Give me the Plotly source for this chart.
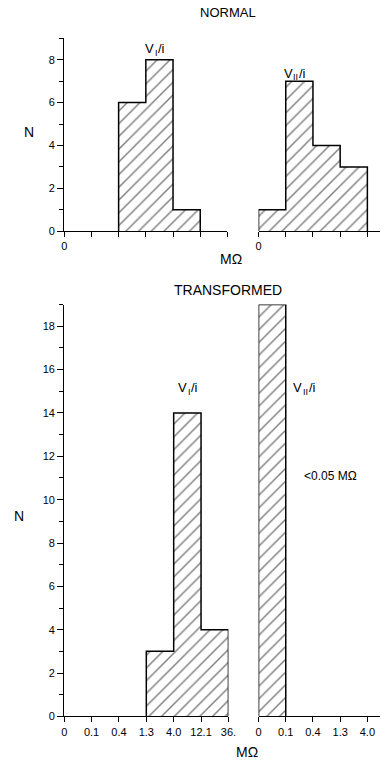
import plotly.graph_objects as go

# ---- data ----
normal_vi_counts = [0, 0, 6, 8, 1, 0]          # 6 bins, left top panel
normal_vii_counts = [1, 7, 4, 3]               # right top panel
trans_vi_counts = [0, 0, 0, 3, 14, 4]          # left bottom panel
trans_vii_counts = [19, 0, 0, 0]               # right bottom panel
left_edge_labels = ["0", "0.1", "0.4", "1.3", "4.0", "12.1", "36."]
right_edge_labels = ["0", "0.1", "0.4", "1.3", "4.0"]
top_labels = ["0"]

W, H = 388, 771
def px(x): return x / W
def py(y): return 1 - y / H

FONT = "Liberation Sans, Arial, sans-serif"
pattern = dict(shape="/", fgcolor="black", bgcolor="white", size=9, solidity=0.16)

def step_outline(counts):
    idx = [i for i, c in enumerate(counts) if c > 0]
    a, b = idx[0], idx[-1]
    xs = [a]
    ys = [0]
    for i in range(a, b + 1):
        xs.append(i)
        ys.append(counts[i])
    xs += [b + 1, b + 1]
    ys += [counts[b], 0]
    return xs, ys

fig = go.Figure()

def add_panel(counts, xa, ya):
    xs = [i + 0.5 for i, c in enumerate(counts) if c > 0]
    ys = [c for c in counts if c > 0]
    fig.add_trace(go.Bar(x=xs, y=ys, width=1, xaxis=xa, yaxis=ya,
                         marker=dict(color="white", line=dict(width=0), pattern=pattern),
                         showlegend=False, hoverinfo="skip"))
    sx, sy = step_outline(counts)
    fig.add_trace(go.Scatter(x=sx, y=sy, mode="lines", line=dict(color="black", width=1.5, shape="hv"),
                             xaxis=xa, yaxis=ya, showlegend=False, hoverinfo="skip"))

add_panel(normal_vi_counts, "x", "y")
add_panel(normal_vii_counts, "x2", "y")
add_panel(trans_vi_counts, "x3", "y2")
add_panel(trans_vii_counts, "x4", "y2")

tickfont = dict(family=FONT, size=11, color="black")

def xaxis(domain, rng, labels, anchor):
    return dict(domain=domain, range=rng, anchor=anchor, showgrid=False, zeroline=False,
                showline=True, linecolor="black", linewidth=1.2,
                tickmode="array", tickvals=list(range(len(labels))), ticktext=labels,
                ticks="outside", ticklen=5, tickwidth=1, tickcolor="black",
                minor=dict(tickmode="linear", tick0=0, dtick=1, ticks="outside", ticklen=5,
                           tickwidth=1, tickcolor="black", showgrid=False),
                tickfont=tickfont, fixedrange=True)

def yaxis(domain, rng, dtick, anchor):
    return dict(domain=domain, range=rng, anchor=anchor, showgrid=False, zeroline=False,
                showline=True, linecolor="black", linewidth=1.2,
                tickmode="linear", tick0=0, dtick=dtick,
                ticks="outside", ticklen=6, tickwidth=1, tickcolor="black",
                minor=dict(dtick=1, tick0=0, ticks="outside", ticklen=4, tickcolor="black", showgrid=False),
                tickfont=tickfont, fixedrange=True)

fig.update_layout(
    width=W, height=H, margin=dict(l=0, r=0, t=0, b=0),
    paper_bgcolor="white", plot_bgcolor="white",
    bargap=0, barmode="overlay",
    xaxis=xaxis([px(63), px(231)], [0, 6], top_labels, "y"),
    xaxis2=xaxis([px(263), 1.0], [0, 125 / 28.0], top_labels, "y"),
    xaxis3=xaxis([px(63), px(232)], [0, 6], left_edge_labels, "y2"),
    xaxis4=xaxis([px(263), 1.0], [0, 125 / 28.0], right_edge_labels, "y2"),
    yaxis=yaxis([py(233), py(38.6)], [0, 9], 2, "x"),
    yaxis2=yaxis([py(722), py(307)], [0, 19], 2, "x3"),
)

def ann(text, x, y, size=13, xanchor="center"):
    fig.add_annotation(text=text, x=px(x), y=py(y), xref="paper", yref="paper",
                       showarrow=False, xanchor=xanchor, yanchor="middle", borderpad=0,
                       font=dict(family=FONT, size=size, color="black"))

def v_label(sub, cx, cy):
    subw = 3.0 * len(sub)
    x0 = cx - (8.7 + subw + 6.5) / 2 + 8.7
    ann("V", x0, cy, 13, "right")
    ann(sub, x0 - 1.5, cy + 4, 9, "left")
    ann("/i", x0 + subw - 1.5, cy, 13, "left")

ann("NORMAL", 232, 13, 13)
ann("TRANSFORMED", 232, 292, 14)
ann("MΩ", 235, 261, 14)
ann("MΩ", 251, 758, 14)
ann("N", 27, 133, 14)
ann("N", 16, 520, 14)
v_label("I", 157, 49)
v_label("II", 301, 74)
v_label("I", 191, 391)
v_label("II", 311, 391)
ann("<0.05 MΩ", 337, 480, 12)

fig.write_html("out.html")
